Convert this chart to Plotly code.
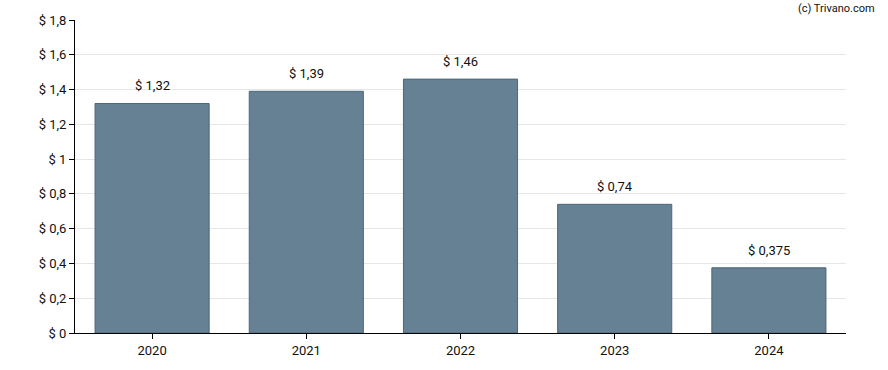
import plotly.graph_objects as go

years = ["2020", "2021", "2022", "2023", "2024"]
values = [1.32, 1.39, 1.46, 0.74, 0.375]
labels = ["$ 1,32", "$ 1,39", "$ 1,46", "$ 0,74", "$ 0,375"]

fig = go.Figure()
fig.add_trace(go.Bar(
    x=years, y=values,
    marker=dict(color="#668194", line=dict(color="#4b667a", width=1)),
    hoverinfo="skip",
))

for i, (y, t) in enumerate(zip(values, labels)):
    fig.add_annotation(x=i, y=y, text=t, showarrow=False, yanchor="bottom",
                       yshift=8, font=dict(size=13, color="#111111", family="Roboto"))

fig.add_annotation(xref="paper", yref="paper", x=1.04, y=1.0, xanchor="right", yanchor="bottom",
                   yshift=3, text="(c) Trivano.com", showarrow=False,
                   font=dict(size=11, color="#111111", family="Roboto"))

fig.update_layout(
    width=888, height=370,
    margin=dict(l=75, r=42, t=20, b=35),
    paper_bgcolor="white", plot_bgcolor="white",
    separators=", ",
    bargap=0.26,
    showlegend=False,
    font=dict(family="Roboto", size=13, color="#111111"),
    xaxis=dict(showline=True, linecolor="black", linewidth=1, ticks="outside",
               ticklen=5, tickcolor="black", showgrid=False, type="category"),
    yaxis=dict(range=[0, 1.8], dtick=0.2, tickprefix="$ ", showline=True,
               linecolor="black", linewidth=1, ticks="outside", ticklen=5,
               tickcolor="black", gridcolor="#e6e6e6", zeroline=False),
)

fig.write_html("out.html", config={"displayModeBar": False},
               post_script="document.body.style.margin='0';document.body.style.overflow='hidden';")
